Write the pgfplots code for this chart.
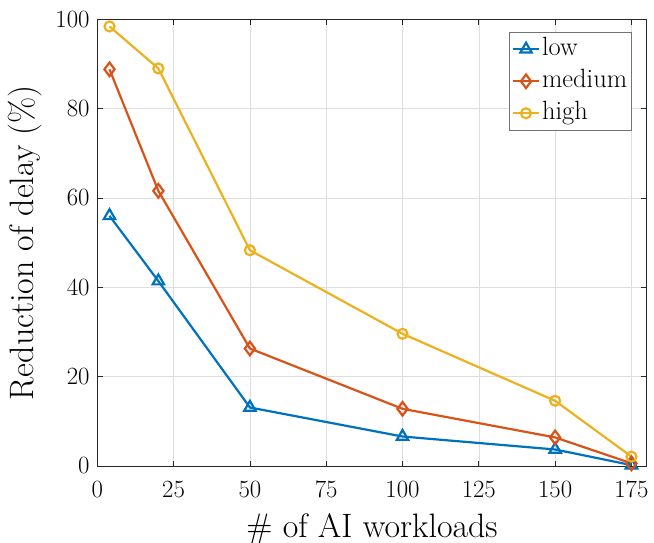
\documentclass[border=0pt]{standalone}
\usepackage{pgfplots}
\pgfplotsset{compat=1.18}
\definecolor{mlblue}{rgb}{0,0.447,0.741}
\definecolor{mlred}{rgb}{0.85,0.325,0.098}
\definecolor{mlyellow}{rgb}{0.929,0.694,0.125}
\begin{document}
\begin{tikzpicture}
\begin{axis}[
  scale only axis,
  width=549.4bp, height=446.7bp,
  xmin=0, xmax=180, ymin=0, ymax=100,
  xtick={0,25,50,75,100,125,150,175},
  ytick={0,20,40,60,80,100},
  grid=major,
  major grid style={black!13, line width=0.6bp},
  axis line style={draw=black!85, line width=0.8bp},
  tick style={draw=black!85, line width=0.8bp},
  tick align=inside,
  major tick length=5.5bp,
  clip=false,
  tick label style={font=\fontsize{29.5}{32}\selectfont},
  xticklabel style={anchor=north, inner sep=0pt, yshift=-15.3bp},
  yticklabel style={anchor=east, inner sep=0pt, xshift=-7.5bp},
  xlabel={\# of AI workloads},
  ylabel={Reduction of delay (\%)},
  label style={font=\fontsize{34}{38}\selectfont},
  xlabel style={at={(axis description cs:0.5,-0.161)}, anchor=base, inner sep=0pt},
  ylabel style={at={(axis description cs:-0.1316,0.5)}, anchor=center, inner sep=0pt},
  legend style={at={(axis description cs:0.9732,0.9716)}, anchor=north east,
    draw=black!55, line width=0.6bp, inner sep=2.5bp,
    font=\fontsize{26.5}{29}\selectfont,
    nodes={text height=19bp, text depth=6bp, inner sep=2bp},
    row sep=3bp},
  legend cell align=left,
  legend image code/.code={
    \draw[mark repeat=2,mark phase=2,#1] plot coordinates {(0bp,0bp) (13bp,0bp) (26bp,0bp)};
  },
  every axis plot/.append style={line width=2.2bp},
]
\addplot[mlblue, mark=triangle, mark size=6.6bp, mark options={solid}] coordinates {
  (4,56.0) (20,41.4) (50,13.1) (100,6.6) (150,3.7) (175,0.2)
};
\addlegendentry{low}
\addplot[mlred, mark=diamond, mark size=6.8bp, mark options={solid}] coordinates {
  (4,88.8) (20,61.6) (50,26.3) (100,12.8) (150,6.4) (175,0.6)
};
\addlegendentry{medium}
\addplot[mlyellow, mark=o, mark size=5bp, mark options={solid}] coordinates {
  (4,98.4) (20,89.0) (50,48.3) (100,29.6) (150,14.6) (175,2.1)
};
\addlegendentry{high}
\end{axis}
\pgfresetboundingbox
\path[use as bounding box] ([shift={(-97.3bp,-77bp)}]current axis.south west) rectangle ([shift={(7.3bp,19.3bp)}]current axis.north east);
\end{tikzpicture}
\end{document}
